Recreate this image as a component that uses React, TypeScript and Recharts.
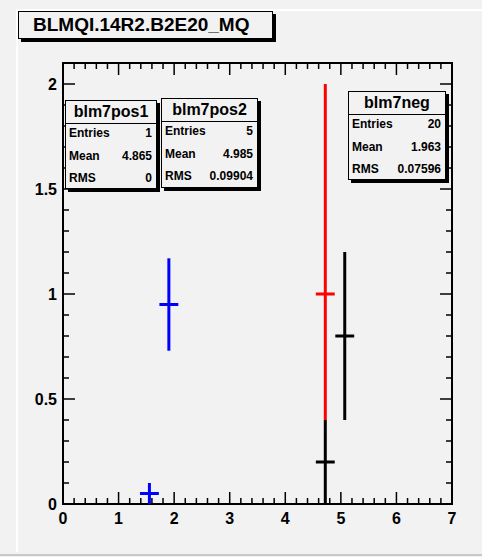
import React from 'react';
import {
  ScatterChart,
  Scatter,
  XAxis,
  YAxis,
  ErrorBar,
  ReferenceArea,
} from 'recharts';

// x positions, values and errors
const negX = [1.555, 1.905];
const negY = [0.05, 0.95];
const negErr = [0.05, 0.22];

const pos1X = [4.72];
const pos1Y = [1.0];
const pos1Err = [[0.6, 1.0]];

const pos2X = [4.72, 5.07];
const pos2Y = [0.2, 0.8];
const pos2Err = [0.2, 0.4];

const binHalf = 0.17;

const xLabels = [0, 1, 2, 3, 4, 5, 6, 7];
const yLabels = [0, 0.5, 1, 1.5, 2];
const xTicks = Array.from({ length: 36 }, (_, i) => Math.round(i * 2) / 10);
const yTicks = Array.from({ length: 22 }, (_, i) => i / 10);

const stats = [
  { name: 'blm7pos1', entries: '1', mean: '4.865', rms: '0', left: 65, top: 100, w: 92, h: 89 },
  { name: 'blm7pos2', entries: '5', mean: '4.985', rms: '0.09904', left: 161, top: 98, w: 97, h: 90 },
  { name: 'blm7neg', entries: '20', mean: '1.963', rms: '0.07596', left: 348, top: 91, w: 98, h: 89 },
];

const build = (xs: number[], ys: number[], errs: any[]) =>
  xs.map((x, i) => ({ x, y: ys[i], ex: binHalf, ey: errs[i] }));

const negData = build(negX, negY, negErr);
const pos1Data = build(pos1X, pos1Y, pos1Err);
const pos2Data = build(pos2X, pos2Y, pos2Err);

const PLOT_W = 389;
const PLOT_H = 441;
const FONT = '"Liberation Sans", Arial, sans-serif';

const isMul = (v: number, step: number) => Math.abs(v / step - Math.round(v / step)) < 1e-6;

function XTick(props: any) {
  const { x, y, payload } = props;
  const v = payload.value;
  const major = isMul(v, 1);
  const len = major ? 12 : 6;
  return (
    <g>
      <line x1={x} y1={y} x2={x} y2={y - len} stroke="#000" strokeWidth={1.5} />
      <line x1={x} y1={y - PLOT_H} x2={x} y2={y - PLOT_H + len} stroke="#000" strokeWidth={1.5} />
      {major && xLabels.includes(v) && (
        <text x={x} y={y + 14} textAnchor="middle" dominantBaseline="central" fontFamily={FONT} fontWeight="bold" fontSize={16} fill="#000">
          {v}
        </text>
      )}
    </g>
  );
}

function YTick(props: any) {
  const { x, y, payload } = props;
  const v = payload.value;
  const major = isMul(v, 0.5);
  const len = major ? 12 : 6;
  return (
    <g>
      <line x1={x} y1={y} x2={x + len} y2={y} stroke="#000" strokeWidth={1.5} />
      <line x1={x + PLOT_W} y1={y} x2={x + PLOT_W - len} y2={y} stroke="#000" strokeWidth={1.5} />
      {major && yLabels.includes(v) && (
        <text x={x - 6} y={y} textAnchor="end" dominantBaseline="central" fontFamily={FONT} fontWeight="bold" fontSize={16} fill="#000">
          {v}
        </text>
      )}
    </g>
  );
}

const noMark = () => <g />;

function StatBox({ s }: { s: (typeof stats)[number] }) {
  const row = (label: string, val: string, top: number) => (
    <div style={{ position: 'absolute', left: 3, right: 4, top, display: 'flex', justifyContent: 'space-between', fontSize: 12, fontWeight: 'bold', lineHeight: '14px' }}>
      <span>{label}</span>
      <span>{val}</span>
    </div>
  );
  return (
    <div
      style={{
        position: 'absolute',
        left: s.left,
        top: s.top,
        width: s.w,
        height: s.h,
        border: '1px solid #000',
        boxShadow: '3px 3px 0 #000',
        background: '#f2f2f2',
        boxSizing: 'border-box',
        fontFamily: FONT,
        color: '#000',
      }}
    >
      <div style={{ height: 22, borderBottom: '1px solid #000', textAlign: 'center', fontSize: 16, fontWeight: 'bold', lineHeight: '22px' }}>
        {s.name}
      </div>
      {row('Entries', s.entries, 25)}
      {row('Mean', s.mean, 48)}
      {row('RMS', s.rms, 70)}
    </div>
  );
}

export default function App() {
  return (
    <div style={{ position: 'absolute', left: 0, top: 0, width: 482, height: 557, background: '#f2f2f2', overflow: 'hidden' }}>
      <div style={{ position: 'absolute', left: 16, top: 9, right: 0, height: 2, background: '#fff' }} />
      <div style={{ position: 'absolute', left: 16, top: 9, width: 2, height: 543, background: '#fff' }} />
      <div style={{ position: 'absolute', left: 0, top: 554, right: 0, height: 2, background: '#c8c8c8' }} />
      <ScatterChart width={482} height={557} margin={{ top: 63, right: 30, left: 23, bottom: 0 }}>
        <XAxis
          type="number"
          dataKey="x"
          domain={[0, 7]}
          ticks={xTicks}
          interval={0}
          allowDataOverflow
          height={53}
          axisLine={false}
          tickLine={false}
          tickSize={0}
          tickMargin={0}
          tick={<XTick />}
        />
        <YAxis
          type="number"
          dataKey="y"
          domain={[0, 2.1]}
          ticks={yTicks}
          interval={0}
          allowDataOverflow
          width={40}
          axisLine={false}
          tickLine={false}
          tickSize={0}
          tickMargin={0}
          tick={<YTick />}
        />
        <ReferenceArea x1={0} x2={7} y1={0} y2={2.1} fill="none" stroke="#000" strokeWidth={2} ifOverflow="visible" />
        <Scatter data={negData} shape={noMark} isAnimationActive={false}>
          <ErrorBar dataKey="ey" direction="y" width={0} stroke="#0000ff" strokeWidth={3} isAnimationActive={false} />
          <ErrorBar dataKey="ex" direction="x" width={0} stroke="#0000ff" strokeWidth={3} isAnimationActive={false} />
        </Scatter>
        <Scatter data={pos1Data} shape={noMark} isAnimationActive={false}>
          <ErrorBar dataKey="ey" direction="y" width={0} stroke="#ff0000" strokeWidth={3} isAnimationActive={false} />
          <ErrorBar dataKey="ex" direction="x" width={0} stroke="#ff0000" strokeWidth={3} isAnimationActive={false} />
        </Scatter>
        <Scatter data={pos2Data} shape={noMark} isAnimationActive={false}>
          <ErrorBar dataKey="ey" direction="y" width={0} stroke="#000000" strokeWidth={3} isAnimationActive={false} />
          <ErrorBar dataKey="ex" direction="x" width={0} stroke="#000000" strokeWidth={3} isAnimationActive={false} />
        </Scatter>
      </ScatterChart>
      <div
        style={{
          position: 'absolute',
          left: 18,
          top: 11,
          width: 255,
          height: 28,
          border: '1px solid #000',
          boxShadow: '3px 3px 0 #000',
          boxSizing: 'border-box',
          background: '#f2f2f2',
          fontFamily: FONT,
          fontWeight: 'bold',
          fontSize: 19,
          lineHeight: '26px',
          paddingLeft: 14,
          color: '#000',
          whiteSpace: 'nowrap',
        }}
      >
        BLMQI.14R2.B2E20_MQ
      </div>
      {stats.map((s) => (
        <StatBox key={s.name} s={s} />
      ))}
    </div>
  );
}
